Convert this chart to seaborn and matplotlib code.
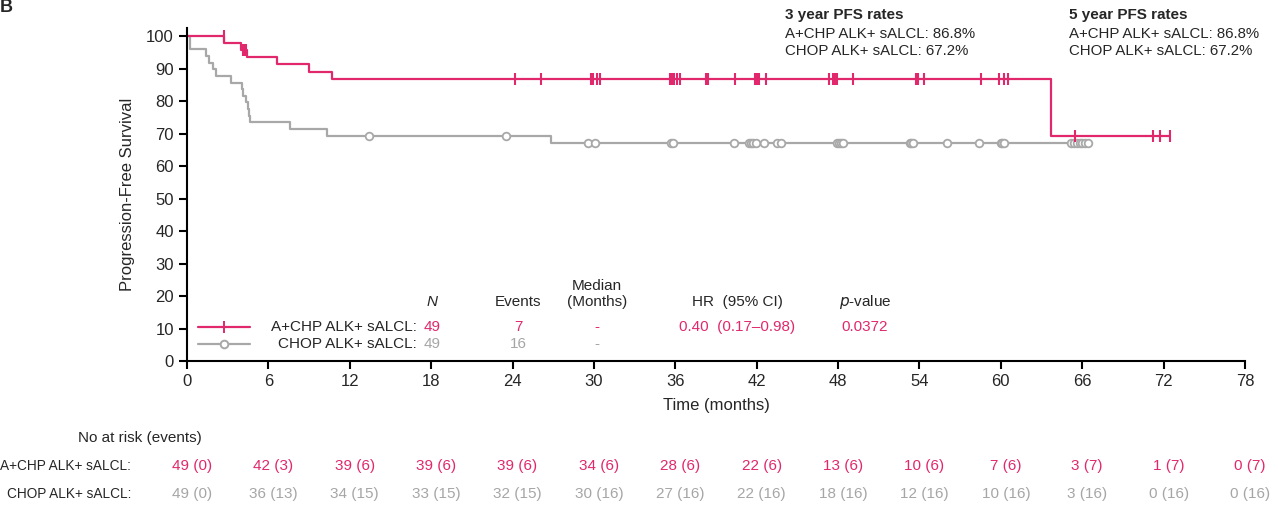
import numpy as np
import pandas as pd
import matplotlib
matplotlib.use("Agg")
import matplotlib.pyplot as plt
import matplotlib.transforms as mtransforms
from matplotlib.lines import Line2D
import seaborn as sns

# Kaplan-Meier steps (months, % progression-free)
pink_step_t = [0, 2.75, 4.0, 4.45, 6.6, 9.0, 10.67, 63.7]
pink_step_s = [100, 97.9, 95.8, 93.6, 91.4, 89.1, 86.8, 69.4]
pink_end = 72.5
gray_step_t = [0, 0.2, 1.38, 1.65, 1.94, 2.14, 3.24, 4.03, 4.15, 4.33, 4.48, 4.57, 4.65, 7.6, 10.3, 26.8]
gray_step_s = [100, 95.9, 93.9, 91.8, 89.8, 87.8, 85.7, 83.7, 81.6, 79.6, 77.6, 75.5, 73.5, 71.4, 69.4, 67.2]
gray_end = 66.4

# censored patients (months)
pink_cens = [2.7, 4.1, 4.2, 4.35, 24.18, 26.1, 29.75, 29.85, 29.95, 30.25, 30.45,
             35.6, 35.73, 35.8, 35.93, 36.15, 36.35, 38.26, 38.43, 40.4, 41.9,
             42.0, 42.05, 42.1, 42.15, 42.7, 47.35, 47.6, 47.75, 47.9, 49.1,
             53.75, 53.9, 54.3, 58.5, 59.9, 60.2, 60.5, 65.5, 71.2, 71.7, 72.5]
gray_cens = [13.4, 23.5, 29.6, 30.05, 35.7, 35.8, 40.3, 41.4, 41.56, 41.76, 41.93,
             42.54, 43.5, 43.8, 47.9, 48.05, 48.2, 48.35, 53.3, 53.4, 53.5, 56.0,
             58.4, 60.0, 60.1, 60.2, 65.2, 65.4, 65.6, 65.8, 66.0, 66.2, 66.4]

# number at risk table
risk_months = [0, 6, 12, 18, 24, 30, 36, 42, 48, 54, 60, 66, 72, 78]
pink_n = [49, 42, 39, 39, 39, 34, 28, 22, 13, 10, 7, 3, 1, 0]
pink_ev = [0, 3, 6, 6, 6, 6, 6, 6, 6, 6, 6, 7, 7, 7]
gray_n = [49, 36, 34, 33, 32, 30, 27, 22, 18, 12, 10, 3, 0, 0]
gray_ev = [0, 13, 15, 15, 15, 16, 16, 16, 16, 16, 16, 16, 16, 16]

arm_labels = ["A+CHP ALK+ sALCL:", "CHOP ALK+ sALCL:"]
pink_stats = ["49", "7", "-", "0.40  (0.17\u20130.98)", "0.0372"]
gray_stats = ["49", "16", "-"]
pfs3 = ["86.8%", "67.2%"]
pfs5 = ["86.8%", "67.2%"]

PINK = "#E1286C"
GRAY = "#A8A8A8"
GRAY_TXT = "#A6A6A6"

sns.set_style("ticks")
plt.rcParams['font.family'] = ['Liberation Sans', 'DejaVu Sans']

W, H = 1278, 509
fig = plt.figure(figsize=(W / 100, H / 100), dpi=100)
ax = fig.add_axes([187 / W, 1 - 361 / H, (1245 - 187) / W, 333 / H])


def fx(x):
    return x / W


def fy(y):
    return 1 - y / H


def curve(t, s, end):
    df = pd.DataFrame({'time': list(t) + [end], 'surv': list(s) + [s[-1]]})
    return df


def level_at(t_list, s_list, times):
    idx = np.searchsorted(np.array(t_list), np.array(times), side='right') - 1
    return np.array(s_list)[idx]


gray_df = curve(gray_step_t, gray_step_s, gray_end)
pink_df = curve(pink_step_t, pink_step_s, pink_end)
sns.lineplot(data=gray_df, x='time', y='surv', drawstyle='steps-post', estimator=None,
             sort=False, color=GRAY, lw=1.6, ax=ax)
sns.lineplot(data=pink_df, x='time', y='surv', drawstyle='steps-post', estimator=None,
             sort=False, color=PINK, lw=1.6, ax=ax)

ax.plot(gray_cens, level_at(gray_step_t, gray_step_s, gray_cens), ls='none', marker='o',
        ms=5.5, mfc='white', mec=GRAY, mew=1.3, zorder=3)
ax.plot(pink_cens, level_at(pink_step_t, pink_step_s, pink_cens), ls='none', marker='|',
        ms=9, mec=PINK, mew=1.5, zorder=4)

ax.set_xlim(0, 78)
ax.set_ylim(0, 102.5)
ax.set_xticks(risk_months)
ax.set_yticks(range(0, 101, 10))
ax.tick_params(axis='both', labelsize=12, length=6, width=1.5, color='black')
for side in ['top', 'right']:
    ax.spines[side].set_visible(False)
for side in ['left', 'bottom']:
    ax.spines[side].set_linewidth(1.5)
    ax.spines[side].set_color('black')
ax.set_xlabel('Time (months)', fontsize=12, labelpad=6)
ax.set_ylabel('Progression-Free Survival', fontsize=12, labelpad=8)

# panel letter and PFS rates
fig.text(fx(0), fy(8), 'B', fontsize=13, fontweight='bold', va='center')
for x0, title, vals in [(785, '3 year PFS rates', pfs3), (1069, '5 year PFS rates', pfs5)]:
    fig.text(fx(x0), fy(15), title, fontsize=11, fontweight='bold', va='center')
    for i, (lab, v) in enumerate(zip(arm_labels, vals)):
        fig.text(fx(x0), fy(34 + 17 * i), lab + ' ' + v, fontsize=10.8, va='center')

# in-plot summary table
cols = [432, 518, 597, 737, 865]
fig.text(fx(cols[0]), fy(302), 'N', fontsize=11, style='italic', ha='center', va='center')
fig.text(fx(cols[1]), fy(302), 'Events', fontsize=11, ha='center', va='center')
fig.text(fx(cols[2]), fy(286), 'Median', fontsize=11, ha='center', va='center')
fig.text(fx(cols[2]), fy(302), '(Months)', fontsize=11, ha='center', va='center')
fig.text(fx(cols[3]), fy(302), 'HR  (95% CI)', fontsize=11, ha='center', va='center')
fig.text(fx(cols[4]), fy(302), r'$\it{p}$-value', fontsize=11, ha='center', va='center')

rows = [(327, PINK, PINK, 'white', '|', pink_stats), (344, GRAY, GRAY_TXT, 'white', 'o', gray_stats)]
for (y0, lc, tc, mfc, mk, stats), lab in zip(rows, arm_labels):
    fig.add_artist(Line2D([fx(198), fx(250)], [fy(y0), fy(y0)], color=lc, lw=1.6,
                          transform=fig.transFigure))
    fig.add_artist(Line2D([fx(224)], [fy(y0)], ls='none', marker=mk, ms=5.5 if mk == 'o' else 9,
                          mfc=mfc, mec=lc, mew=1.4, transform=fig.transFigure))
    fig.text(fx(417), fy(y0), lab, fontsize=11, ha='right', va='center')
    for cx, s in zip(cols, stats):
        fig.text(fx(cx), fy(y0), s, fontsize=11, color=tc, ha='center', va='center')

# number at risk
shift = mtransforms.ScaledTranslation(5 / 100, 0, fig.dpi_scale_trans)
trans = mtransforms.blended_transform_factory(ax.transData, fig.transFigure) + shift
fig.text(fx(140), fy(438), 'No at risk (events)', fontsize=11, ha='center', va='center')
for y0, lab, ns, evs, tc in [(466, arm_labels[0], pink_n, pink_ev, PINK),
                             (494, arm_labels[1], gray_n, gray_ev, GRAY_TXT)]:
    fig.text(fx(131), fy(y0), lab, fontsize=9.8, ha='right', va='center')
    for m, n, e in zip(risk_months, ns, evs):
        ax.text(m, fy(y0), f'{n} ({e})', transform=trans, fontsize=11, color=tc,
                ha='center', va='center', clip_on=False)

fig.savefig('out.png', dpi=100)
